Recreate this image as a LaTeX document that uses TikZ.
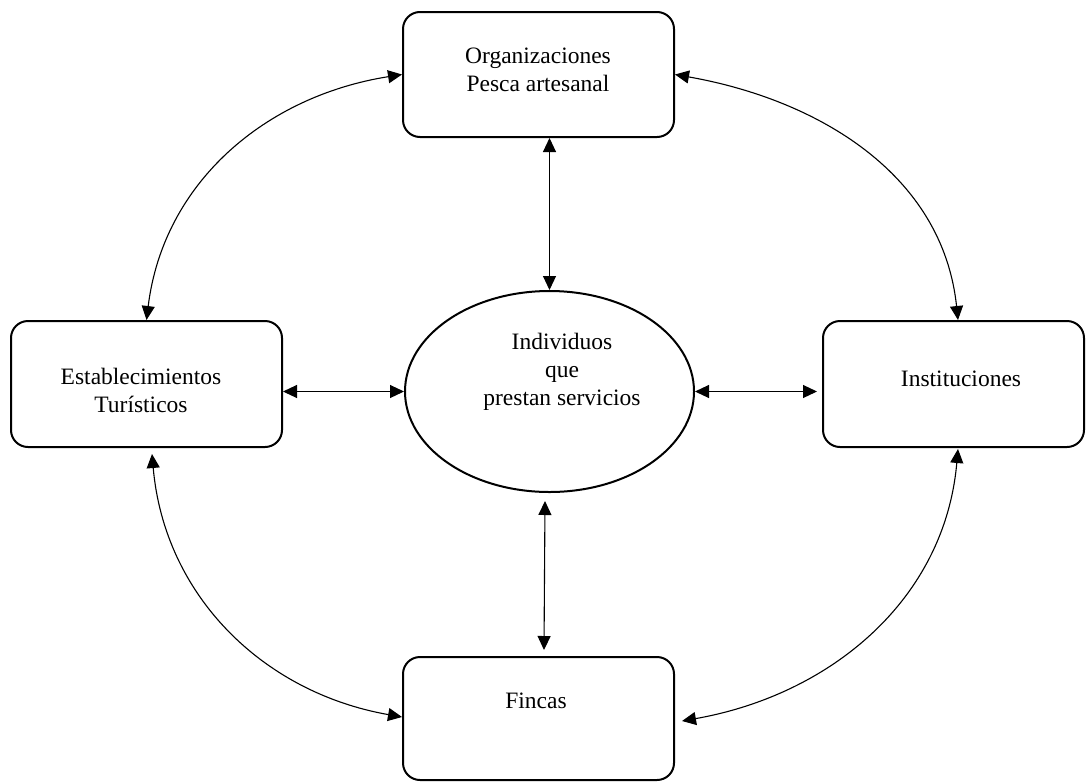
\documentclass[tikz,border=0pt]{standalone}
\usepackage{fontspec}
\setmainfont{Liberation Serif}
\usetikzlibrary{arrows.meta,shapes.geometric,calc}
\begin{document}
\begin{tikzpicture}[x=1pt,y=-1pt,
  >={Triangle[length=14pt,width=13pt]},
  box/.style={draw, line width=2pt, rounded corners=17pt, inner sep=0pt},
  ell/.style={draw, ellipse, line width=2pt, inner sep=0pt, minimum width=289pt, minimum height=201pt},
  txt/.style={align=center, inner sep=0pt, font=\fontsize{23.5}{28}\selectfont},
  conn/.style={line width=1.1pt, <->}]
\useasboundingbox (0,0) rectangle (1086,782);
% shapes
\node[box, minimum width=271pt, minimum height=125pt] (top) at (538.5,74.5) {};
\node[box, minimum width=271pt, minimum height=126pt] (left) at (146.5,384) {};
\node[box, minimum width=261pt, minimum height=126pt] (right) at (953.5,384) {};
\node[box, minimum width=271pt, minimum height=123pt] (bot) at (538.5,718.5) {};
\node[ell] (ind) at (549.5,391.5) {};
% texts
\node[txt] (ttop) at (538,70) {Organizaciones\\Pesca artesanal};
\node[txt] (tleft) at (141,390.5) {Establecimientos\\Turísticos};
\node[txt] (tright) at (961,379) {Instituciones};
\node[txt] (tbot) at (536,701) {Fincas};
\node[txt] (tind) at (562,371.5) {Individuos\\que\\prestan servicios};
% straight connectors
\draw[conn] (top.south -| ind.north) -- (ind.north);
\draw[conn] (ind.west -| left.east) -- (ind.west);
\draw[conn] (ind.east) -- ($(ind.east -| right.west)+(-5,0)$);
\draw[conn] ($(ind.south)+(-4.5,8)$) -- ($(bot.north)+(5.5,-6)$);
% curved connectors
\draw[conn] (top.west) to[out=189,in=83] (left.north);
\draw[conn] (top.east) to[out=350,in=96] ($(right.north)+(4.5,0)$);
\draw[conn] ($(left.south)+(5.5,6)$) to[out=275,in=170] ($(bot.west)+(0,-1.5)$);
\draw[conn] ($(right.south)+(4.5,1)$) to[out=265,in=10] ($(bot.east)+(7,2.5)$);
\end{tikzpicture}
\end{document}
